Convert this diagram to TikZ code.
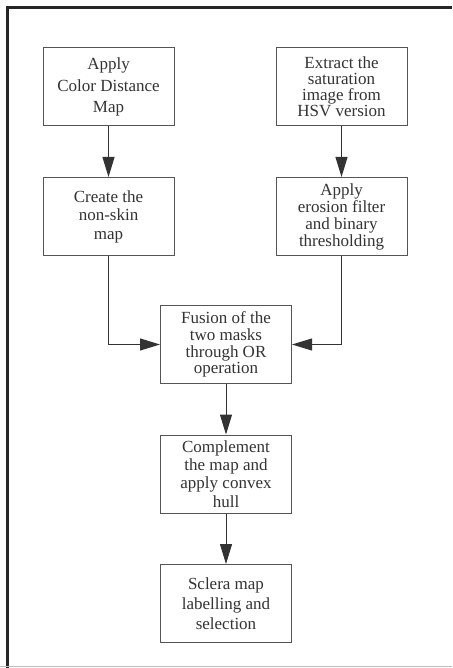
\documentclass[tikz,border=0pt]{standalone}
\usepackage{fontspec}
\setmainfont{Liberation Serif}
\usetikzlibrary{arrows.meta}
\definecolor{boxline}{HTML}{555555}
\definecolor{txt}{HTML}{333333}
\tikzset{
  stepbox/.style={draw=boxline, line width=1pt, rectangle, minimum width=131pt, minimum height=78pt,
    align=center, text=txt, inner sep=0pt},
  flow/.style={draw=black!80, line width=1pt, -{Triangle[length=20pt,width=12pt]}},
  frame/.style={draw=black!85, line width=3pt}
}
\newcommand{\bs}[1]{\fontsize{17}{#1}\selectfont}
\begin{document}
\begin{tikzpicture}[x=1pt,y=-1pt]
\useasboundingbox (0,0) rectangle (452,668);
\fill[white] (0,0) rectangle (452,668);
\coordinate (ftl) at (7.5,7.5);
\coordinate (ftr) at (452,7.5);
\coordinate (fbl) at (7.5,668);
\draw[frame] (ftr) -- (ftl) -- (fbl);
\coordinate (bl) at (0,666.5);
\coordinate (br) at (452,666.5);
\draw[black!25, line width=1pt] (bl) -- (br);

\node[stepbox, font=\bs{21.7}] (A) at (108.5,87) {Apply\\Color Distance\\Map};
\node[stepbox, font=\bs{16}] (B) at (341.5,87) {Extract the\\saturation\\image from\\HSV version};
\node[stepbox, font=\bs{18.5}] (C) at (108.5,216.5) {Create the\\non{-}skin\\map};
\node[stepbox, font=\bs{17}] (D) at (341.5,216.5) {Apply\\erosion filter\\and binary\\thresholding};
\node[stepbox, font=\bs{16.7}] (E) at (226,344.5) {Fusion of the\\two masks\\through OR\\operation};
\node[stepbox, font=\bs{18.3}] (F) at (226,474) {Complement\\the map and\\apply convex\\hull};
\node[stepbox, font=\bs{20}] (G) at (226,603.5) {Sclera map\\labelling and\\selection};

\draw[flow] (A) -- (C);
\draw[flow] (B) -- (D);
\draw[flow] (C.south) |- (E.west);
\draw[flow] (D.south) |- (E.east);
\draw[flow] (E) -- (F);
\draw[flow] (F) -- (G);
\end{tikzpicture}
\end{document}
